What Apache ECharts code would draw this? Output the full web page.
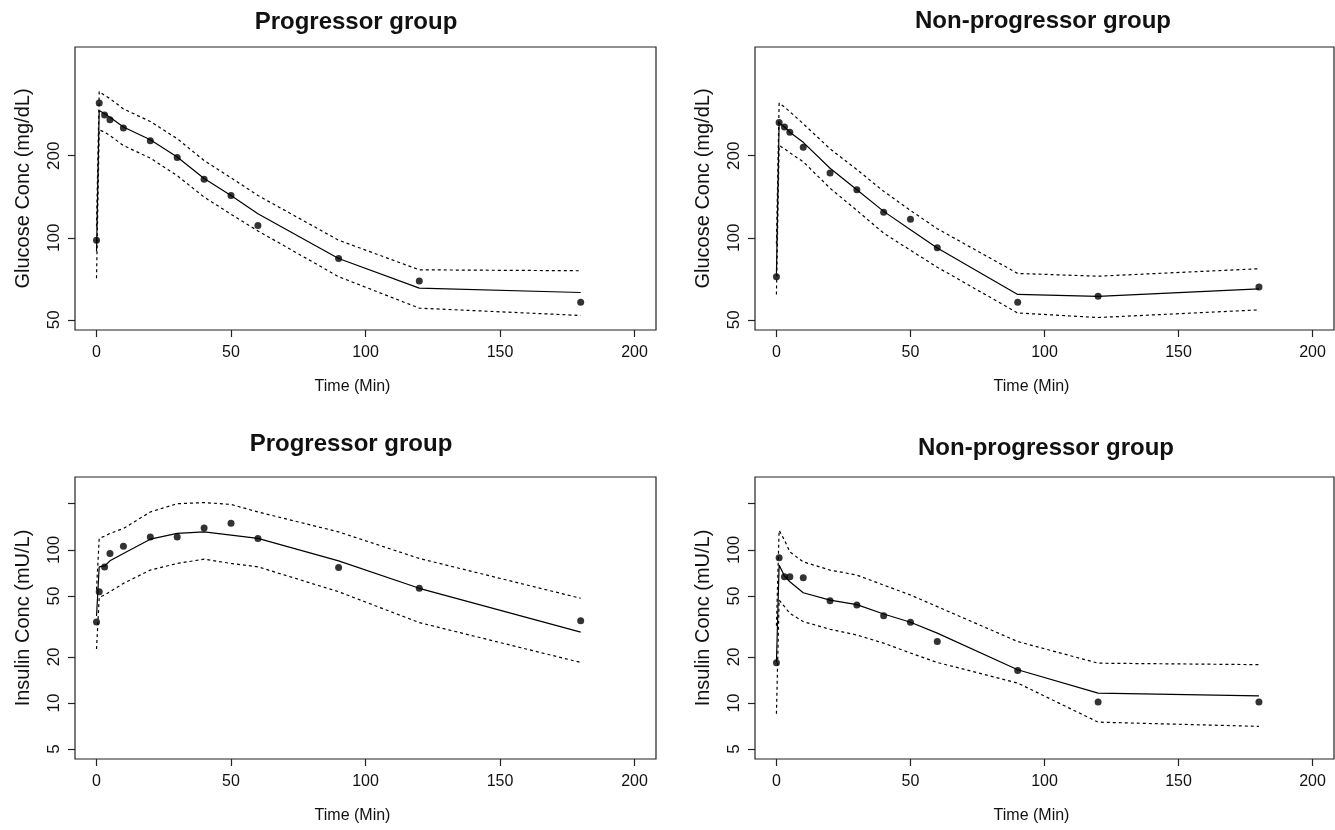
<!DOCTYPE html>
<html><head><meta charset="utf-8">
<script src="https://cdn.jsdelivr.net/npm/echarts@6/dist/echarts.min.js"></script>
<style>html,body{margin:0;padding:0;background:#fff}#c{width:1335px;height:830px}</style>
</head><body><div id="c"></div>
<script>
// ---- data ----
const times = [0, 1, 3, 5, 10, 20, 30, 40, 50, 60, 90, 120, 180];
const xTicks = [0, 50, 100, 150, 200];
const glucoseTicks = [50, 100, 200];
const glucoseLabels = [50, 100, 200];
const insulinTicks = [5, 10, 20, 50, 100, 200];
const insulinLabels = [5, 10, 20, 50, 100];

// Progressor glucose
const obsPG  = [98, 312, 282, 271, 253, 227, 197, 164, 143, 111, 84, 69.5, 58];
const predPG = [89, 293, 285, 277, 255, 229, 198, 165, 143, 122.5, 84, 65.4, 63];
const upPG   = [110, 344, 333, 324, 297, 267, 231, 192, 166, 143, 98, 76.3, 75.7];
const loPG   = [71, 249, 244, 237, 218, 196, 169, 141, 122, 106, 72, 55.2, 51.9];
// Non-progressor glucose
const obsNG  = [72, 265, 255, 244, 215, 173, 150, 124, 117, 92, 58, 61, 66];
const predNG = [74, 264, 255, 244, 224, 180, 150, 125, 107, 91.7, 62, 61, 65];
const upNG   = [95, 312, 302, 290, 262, 212, 178, 148, 126, 108, 74, 72.3, 77];
const loNG   = [62, 218, 212, 205, 190, 152, 126, 104, 90, 78, 53, 51, 54.4];
// Progressor insulin
const obsPI  = [33.8, 53.3, 77.2, 94.8, 105.7, 121.5, 121.5, 139, 149, 118.7, 76.8, 56.1, 34.5];
const predPI = [37, 77.5, 78.5, 84.8, 94.7, 117.4, 128, 131, 124.7, 118.7, 84.8, 56.1, 29];
const upPI   = [55, 119, 122.8, 128, 137.8, 176.8, 200, 203.5, 198, 176.8, 131, 87.9, 48.3];
const loPI   = [22.5, 49, 50.7, 53.3, 60.4, 73.8, 81.5, 87, 81.5, 77.5, 53.3, 33.5, 18.4];
// Non-progressor insulin
const obsNI  = [18.3, 88.7, 66.7, 66.7, 65.7, 46.6, 43.6, 37.2, 33.7, 25.2, 16.3, 10.15, 10.15];
const predNI = [18.4, 79.5, 67.4, 61.9, 52.5, 47, 43.9, 38.1, 33.7, 28.6, 16.5, 11.6, 11.15];
const upNI   = [32, 134, 115.7, 97, 83.5, 73.8, 68.4, 58.9, 50.7, 42.6, 25.2, 18.2, 17.8];
const loNI   = [8.5, 47, 42.6, 38.5, 34, 30.3, 27.8, 24.6, 21.2, 18.4, 13.5, 7.5, 7.04];

// ---- layout / style ----
const FONT = '"Liberation Sans", Arial, Helvetica, sans-serif';
const INK = '#111';
const panels = [
  {title:'Progressor group', yName:'Glucose Conc (mg/dL)', obs:obsPG, pred:predPG, up:upPG, lo:loPG,
   yr:[45.9, 501], ticks:glucoseTicks, labels:glucoseLabels,
   grid:{left:75, top:47, width:581, height:283}, tx:351, ty:5},
  {title:'Non-progressor group', yName:'Glucose Conc (mg/dL)', obs:obsNG, pred:predNG, up:upNG, lo:loNG,
   yr:[45.9, 501], ticks:glucoseTicks, labels:glucoseLabels,
   grid:{left:755, top:47, width:579, height:283}, tx:1038, ty:4},
  {title:'Progressor group', yName:'Insulin Conc (mU/L)', obs:obsPI, pred:predPI, up:upPI, lo:loPI,
   yr:[4.31, 299], ticks:insulinTicks, labels:insulinLabels,
   grid:{left:75, top:477, width:581, height:282}, tx:346, ty:427},
  {title:'Non-progressor group', yName:'Insulin Conc (mU/L)', obs:obsNI, pred:predNI, up:upNI, lo:loNI,
   yr:[4.31, 299], ticks:insulinTicks, labels:insulinLabels,
   grid:{left:755, top:477, width:579, height:282}, tx:1041, ty:431}
];

const L = Math.log10;
const toPts = arr => times.map((t, i) => [t, L(arr[i])]);

const option = {
  animation: false,
  backgroundColor: '#fff',
  title: panels.map(p => ({
    text: p.title, left: p.tx, top: p.ty, textAlign: 'center',
    textStyle: {fontFamily: FONT, fontWeight: 'bold', fontSize: 24, color: INK}
  })),
  grid: panels.map(p => Object.assign({show: true, borderColor: '#222', borderWidth: 1.2, backgroundColor: 'transparent'}, p.grid)),
  xAxis: panels.map((p, i) => ({
    type: 'value', gridIndex: i, min: -8, max: 208,
    name: 'Time (Min)', nameLocation: 'middle', nameGap: 49,
    nameTextStyle: {fontFamily: FONT, fontSize: 16, color: INK, padding: [0, 26, 0, 0]},
    axisLine: {show: false, onZero: false},
    axisTick: {show: true, inside: false, length: 7, lineStyle: {color: '#222', width: 1.2}, customValues: xTicks},
    axisLabel: {fontFamily: FONT, fontSize: 16, color: INK, margin: 15, customValues: xTicks},
    splitLine: {show: false}
  })),
  yAxis: panels.map((p, i) => ({
    type: 'value', gridIndex: i, min: L(p.yr[0]), max: L(p.yr[1]),
    name: p.yName, nameLocation: 'middle', nameGap: 42, nameRotate: 90,
    nameTextStyle: {fontFamily: FONT, fontSize: 20, color: INK},
    axisLine: {show: false, onZero: false},
    axisTick: {show: true, inside: false, length: 7, lineStyle: {color: '#222', width: 1.2}, customValues: p.ticks.map(L)},
    axisLabel: {fontFamily: FONT, fontSize: 17, color: INK, margin: 12, rotate: 90,
      showMinLabel: true, showMaxLabel: true, hideOverlap: false,
      customValues: p.labels.map(L),
      formatter: v => String(Math.round(Math.pow(10, v)))},
    splitLine: {show: false}
  })),
  series: []
};

panels.forEach((p, i) => {
  const base = {type: 'line', xAxisIndex: i, yAxisIndex: i, showSymbol: false, symbol: 'none', silent: true};
  option.series.push(Object.assign({}, base, {name: 'upper' + i, data: toPts(p.up),
    lineStyle: {color: '#000', width: 1.2, type: [3, 3]}}));
  option.series.push(Object.assign({}, base, {name: 'lower' + i, data: toPts(p.lo),
    lineStyle: {color: '#000', width: 1.2, type: [3, 3]}}));
  option.series.push(Object.assign({}, base, {name: 'pred' + i, data: toPts(p.pred),
    lineStyle: {color: '#000', width: 1.2, type: 'solid'}}));
  option.series.push({type: 'scatter', xAxisIndex: i, yAxisIndex: i, name: 'obs' + i,
    data: toPts(p.obs), symbol: 'circle', symbolSize: 7, itemStyle: {color: '#000'}, silent: true});
});

const chart = echarts.init(document.getElementById('c'), null, {renderer: 'canvas'});
chart.setOption(option);
</script>
</body></html>
